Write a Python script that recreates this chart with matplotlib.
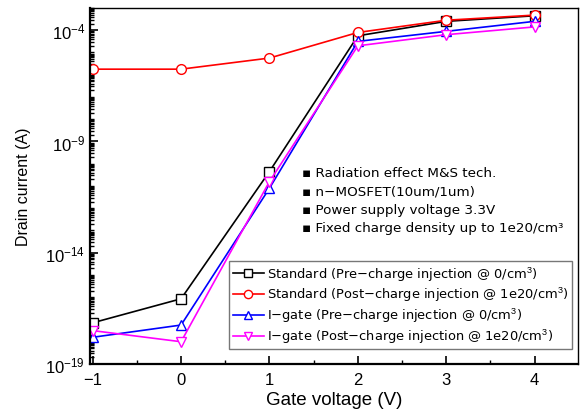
"""
Drain current vs gate voltage, standard and I-gate n-MOSFET before/after charge injection.
"""
import matplotlib

matplotlib.use("Agg")
import matplotlib.pyplot as plt
import numpy as np
from matplotlib.ticker import LogLocator, NullFormatter

# Gate voltage (V)
gate_voltage = [-1, 0, 1, 2, 3, 4]

# log10 of drain current (A)
std_pre_log = [-17.15, -16.07, -10.35, -4.25, -3.6, -3.35]
std_post_log = [-5.75, -5.75, -5.25, -4.1, -3.55, -3.32]
igate_pre_log = [-17.8, -17.25, -11.1, -4.5, -4.05, -3.6]
igate_post_log = [-17.5, -18.0, -10.8, -4.7, -4.2, -3.85]

series_labels = [
    "Standard (Pre\u2212charge injection @ 0/cm$^3$)",
    "Standard (Post\u2212charge injection @ 1e20/cm$^3$)",
    "I\u2212gate (Pre\u2212charge injection @ 0/cm$^3$)",
    "I\u2212gate (Post\u2212charge injection @ 1e20/cm$^3$)",
]

notes = [
    "Radiation effect M&S tech.",
    "n\u2212MOSFET(10um/1um)",
    "Power supply voltage 3.3V",
    "Fixed charge density up to 1e20/cm\u00b3",
]

plt.rcParams["font.family"] = ["Liberation Sans", "DejaVu Sans"]
plt.rcParams["mathtext.fontset"] = "custom"
plt.rcParams["mathtext.rm"] = "Liberation Sans"
plt.rcParams["mathtext.it"] = "Liberation Sans"

fig = plt.figure(figsize=(5.83, 4.14), dpi=100)
ax = fig.add_axes([0.1544, 0.1184, 0.8370, 0.8599])

styles = [
    ("black", "s"),
    ("red", "o"),
    ("blue", "^"),
    ("#ff00ff", "v"),
]
all_series = [std_pre_log, std_post_log, igate_pre_log, igate_post_log]

for values, (color, marker), label in zip(all_series, styles, series_labels):
    ax.plot(
        gate_voltage,
        10 ** np.array(values),
        color=color,
        marker=marker,
        markersize=7,
        markerfacecolor="white",
        markeredgecolor=color,
        markeredgewidth=1.0,
        linewidth=1.2,
        label=label,
    )

ax.set_yscale("log")
ax.set_xlim(-1.03, 4.49)
ax.set_ylim(1e-19, 1e-3)

ax.set_yticks([1e-19, 1e-14, 1e-9, 1e-4])
ax.yaxis.set_minor_locator(LogLocator(base=10, subs=np.arange(1, 10), numticks=100))
ax.yaxis.set_minor_formatter(NullFormatter())
ax.set_xticks(gate_voltage)
ax.set_xticks(np.arange(-0.5, 4.5, 1.0), minor=True)

ax.tick_params(axis="both", which="major", direction="in", length=6, width=1.2,
               labelsize=12)
ax.tick_params(axis="both", which="minor", direction="in", length=3, width=1.0)
ax.tick_params(axis="x", pad=6)
ax.set_xticklabels(["\u22121", "0", "1", "2", "3", "4"])

for side in ["left", "bottom"]:
    ax.spines[side].set_linewidth(1.6)
for side in ["top", "right"]:
    ax.spines[side].set_linewidth(1.0)

ax.set_xlabel("Gate voltage (V)", fontsize=13.5, labelpad=3)
ax.set_ylabel("Drain current (A)", fontsize=11.5, labelpad=10)

# notes block
note_y = [0.539, 0.486, 0.433, 0.382]
for text, y in zip(notes, note_y):
    ax.text(0.434, y, "\u25aa " + text, transform=ax.transAxes, fontsize=9.7,
            va="center", ha="left", family=["DejaVu Sans"])

leg = ax.legend(
    loc="lower right",
    bbox_to_anchor=(0.988, 0.042),
    borderaxespad=0,
    fancybox=False,
    edgecolor="#555555",
    prop={"family": ["DejaVu Sans"], "size": 9.4},
    handlelength=2.4,
    handletextpad=0.2,
    borderpad=0.3,
    labelspacing=0.2,
    markerscale=0.85,
)
leg.get_frame().set_linewidth(1.0)

fig.savefig("out.png", dpi=100)
